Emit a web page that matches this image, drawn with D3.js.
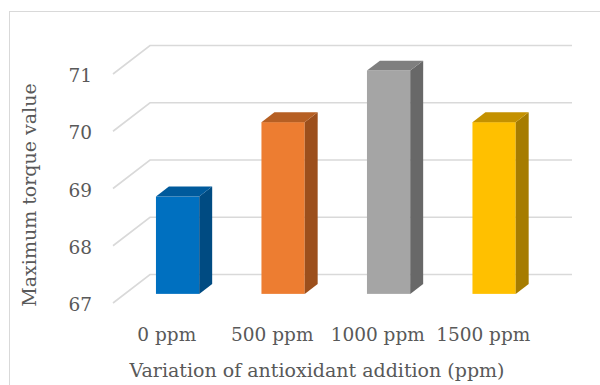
<!DOCTYPE html>
<html><head><meta charset="utf-8">
<script src="https://cdn.jsdelivr.net/npm/d3@7"></script>
<style>html,body{margin:0;padding:0;background:#fff;}svg{display:block;}</style>
</head><body>
<script>
const categories = ["0 ppm", "500 ppm", "1000 ppm", "1500 ppm"];
const values = [68.7, 70.0, 70.9, 70.0];
const yTicks = [67, 68, 69, 70, 71];
const frontColors = ["#0070C0", "#ED7D31", "#A5A5A5", "#FFC000"];
const topColors = ["#005A9C", "#B65F23", "#7F7F7F", "#C49100"];
const sideColors = ["#004B82", "#9C4F1C", "#686868", "#A67C00"];
const xTitle = "Variation of antioxidant addition (ppm)";
const yTitle = "Maximum torque value";

const W = 600, H = 385;
const svg = d3.select("body").append("svg").attr("width", W).attr("height", H);
const font = "DejaVu Serif";
const textColor = "#595959";
const gridColor = "#d9d9d9";

svg.append("rect").attr("x", 9.5).attr("y", 11.5).attr("width", 640).attr("height", 420)
  .attr("fill", "none").attr("stroke", gridColor).attr("stroke-width", 1);

const x = d3.scaleBand().domain(categories).range([113, 535]);
const y = d3.scaleLinear().domain([67, 71]).range([303, 74]);
const depth = {dx: 37, dy: -28.5};

// gridlines
const g = svg.append("g");
yTicks.forEach(t => {
  const yy = y(t);
  const pts = [[113, yy], [113 + depth.dx, yy + depth.dy], [535 + depth.dx, yy + depth.dy]];
  g.append("path").attr("d", d3.line()(pts)).attr("fill", "none")
    .attr("stroke", gridColor).attr("stroke-width", 1.6);
});

// y tick labels
svg.append("g").selectAll("text").data(yTicks).join("text")
  .attr("x", 92).attr("y", d => y(d) + 3)
  .attr("text-anchor", "end").attr("dominant-baseline", "middle")
  .attr("font-family", font).attr("font-size", 18.5).attr("fill", textColor)
  .text(d => d);

// bars
const barFrac = 0.41, f0 = 0.32, f1 = 0.67;
const bars = svg.append("g");
categories.forEach((c, i) => {
  const cx = x(c) + x.bandwidth() / 2;
  const bw = x.bandwidth() * barFrac;
  const ox = depth.dx * f0, oy = depth.dy * f0;
  const ddx = depth.dx * (f1 - f0), ddy = depth.dy * (f1 - f0);
  const xl = cx - bw / 2 + ox, xr = cx + bw / 2 + ox;
  const yb = y(67) + oy, yt = y(values[i]) + oy;
  bars.append("rect").attr("x", xl).attr("y", yt).attr("width", xr - xl).attr("height", yb - yt)
    .attr("fill", frontColors[i]);
  bars.append("path").attr("d", d3.line()([[xr, yt], [xr + ddx, yt + ddy], [xr + ddx, yb + ddy], [xr, yb]]) + "Z")
    .attr("fill", sideColors[i]);
  bars.append("path").attr("d", d3.line()([[xl, yt], [xl + ddx, yt + ddy], [xr + ddx, yt + ddy], [xr, yt]]) + "Z")
    .attr("fill", topColors[i]);
});

// x labels
svg.append("g").selectAll("text").data(categories).join("text")
  .attr("x", d => x(d) + x.bandwidth() / 2 + 1).attr("y", 341)
  .attr("text-anchor", "middle")
  .attr("font-family", font).attr("font-size", 18.5).attr("fill", textColor)
  .text(d => d);

// titles
svg.append("text").attr("x", 317).attr("y", 377).attr("text-anchor", "middle")
  .attr("font-family", font).attr("font-size", 19).attr("fill", textColor).text(xTitle);
svg.append("text").attr("transform", "translate(36,195) rotate(-90)").attr("text-anchor", "middle")
  .attr("font-family", font).attr("font-size", 19).attr("fill", textColor).text(yTitle);
</script>
</body></html>
